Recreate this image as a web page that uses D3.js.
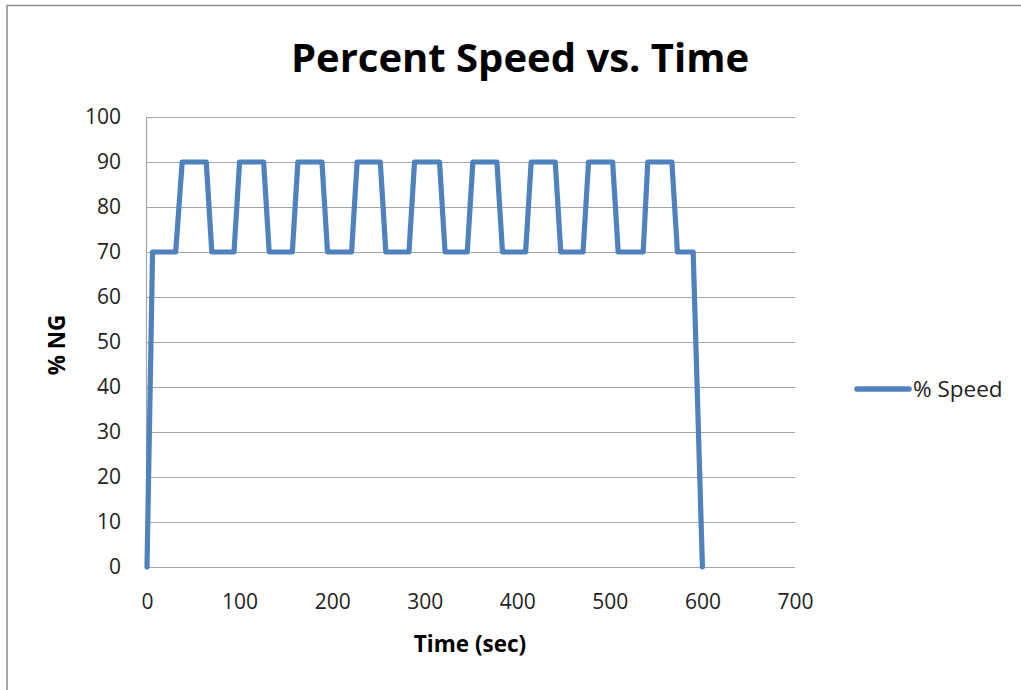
<!DOCTYPE html>
<html>
<head>
<meta charset="utf-8">
<script src="https://cdn.jsdelivr.net/npm/d3@7"></script>
<style>
  html, body { margin: 0; padding: 0; background: #fff; }
  svg { display: block; font-family: 'Open Sans', sans-serif; }
</style>
</head>
<body>
<div id="chart"></div>
<script>
  // Percent speed vs. time
  const TIME = [0, 6, 31, 38, 64, 70, 94, 100, 126, 132, 157, 163, 189, 195,
    221, 227, 252, 258, 283, 289, 316, 322, 346, 352, 378, 384, 409, 415,
    441, 447, 471, 477, 503, 509, 536, 541, 567, 573, 590, 600];
  const SPEED = [0, 70, 70, 90, 90, 70, 70, 90, 90, 70, 70, 90, 90, 70,
    70, 90, 90, 70, 70, 90, 90, 70, 70, 90, 90, 70, 70, 90,
    90, 70, 70, 90, 90, 70, 70, 90, 90, 70, 70, 0];
  const X_TICKS = [0, 100, 200, 300, 400, 500, 600, 700];
  const Y_TICKS = [0, 10, 20, 30, 40, 50, 60, 70, 80, 90, 100];
  const SERIES_NAME = '% Speed';

  const W = 1021, H = 690;
  const margin = { top: 117, left: 147, right: 226, bottom: 123 };
  const color = '#4f81bd';

  const svg = d3.select('#chart').append('svg').attr('width', W).attr('height', H);

  // outer frame (top + left edges only visible)
  svg.append('path')
    .attr('d', `M7,${H} V5.5 H${W}`)
    .attr('fill', 'none').attr('stroke', '#8c8c8c').attr('stroke-width', 1.5);

  const x = d3.scaleLinear().domain([0, 700]).range([margin.left, W - margin.right]);
  const y = d3.scaleLinear().domain([0, 100]).range([H - margin.bottom, margin.top]);

  // gridlines
  svg.append('g').selectAll('line').data(Y_TICKS).enter().append('line')
    .attr('x1', x(0)).attr('x2', x(700))
    .attr('y1', d => y(d) + 0.5).attr('y2', d => y(d) + 0.5)
    .attr('stroke', '#a6a6a6').attr('stroke-width', 1.2);

  // y axis line
  svg.append('line')
    .attr('x1', x(0) - 0.5).attr('x2', x(0) - 0.5)
    .attr('y1', y(100)).attr('y2', y(0))
    .attr('stroke', '#a6a6a6').attr('stroke-width', 1.2);

  // y tick labels
  const yAxis = d3.axisLeft(y).tickValues(Y_TICKS).tickSize(0).tickPadding(26);
  const gy = svg.append('g').attr('transform', `translate(${x(0)},0)`).call(yAxis);
  gy.select('.domain').remove();
  gy.selectAll('text').style('font-size', '21px').style('fill', '#222')
    .style('font-family', "'Open Sans', sans-serif");

  // x tick labels
  const xAxis = d3.axisBottom(x).tickValues(X_TICKS).tickSize(0).tickPadding(27);
  const gx = svg.append('g').attr('transform', `translate(0,${y(0)})`).call(xAxis);
  gx.select('.domain').remove();
  gx.selectAll('text').style('font-size', '21px').style('fill', '#222')
    .style('font-family', "'Open Sans', sans-serif");

  // series line
  const pts = TIME.map((t, i) => [t, SPEED[i]]);
  svg.append('path')
    .datum(pts)
    .attr('fill', 'none')
    .attr('stroke', color)
    .attr('stroke-width', 5.2)
    .attr('stroke-linejoin', 'round')
    .attr('stroke-linecap', 'round')
    .attr('d', d3.line().x(d => x(d[0])).y(d => y(d[1])));

  // title
  svg.append('text')
    .attr('x', 520).attr('y', 72)
    .attr('text-anchor', 'middle')
    .style('font-size', '40px').style('font-weight', 700).style('fill', '#000')
    .text('Percent Speed vs. Time');

  // axis titles
  svg.append('text')
    .attr('x', 470).attr('y', 652)
    .attr('text-anchor', 'middle')
    .style('font-size', '22.5px').style('font-weight', 700).style('fill', '#000')
    .text('Time (sec)');

  svg.append('text')
    .attr('transform', 'translate(65,345) rotate(-90)')
    .attr('text-anchor', 'middle')
    .style('font-size', '22.5px').style('font-weight', 700).style('fill', '#000')
    .text('% NG');

  // legend
  const lg = svg.append('g').attr('transform', 'translate(857,389)');
  lg.append('line').attr('x1', 0).attr('x2', 52).attr('y1', 0).attr('y2', 0)
    .attr('stroke', color).attr('stroke-width', 5.5).attr('stroke-linecap', 'round');
  lg.append('text').attr('x', 56).attr('y', 8)
    .style('font-size', '22.5px').style('fill', '#222')
    .text(SERIES_NAME);
</script>
</body>
</html>
